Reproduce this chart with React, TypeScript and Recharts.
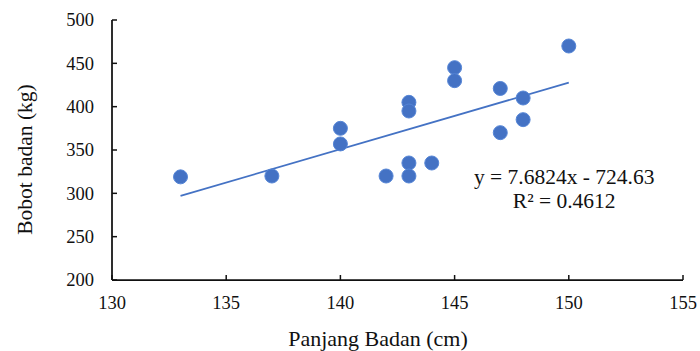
import React from 'react';
import { ScatterChart, Scatter, XAxis, YAxis, ReferenceLine, ReferenceDot } from 'recharts';

const panjangBadan = [133, 137, 140, 140, 142, 143, 143, 143, 143, 144, 145, 145, 147, 147, 148, 148, 150];
const bobotBadan = [319, 320, 375, 357, 320, 405, 395, 335, 320, 335, 445, 430, 421, 370, 410, 385, 470];
const xTicks = [130, 135, 140, 145, 150, 155];
const yTicks = [200, 250, 300, 350, 400, 450, 500];
const slope = 7.6824;
const intercept = -724.63;
const rSquared = 0.4612;
const trendRange = [133, 150];

const points = panjangBadan.map((x, i) => ({ x, y: bobotBadan[i] }));
const trendSegment = trendRange.map((x) => ({ x, y: slope * x + intercept }));

const FONT = "'Liberation Serif', 'DejaVu Serif', serif";
const INK = '#111111';
const AXIS = '#111111';
const textStyle = (size: number) => ({ fontFamily: FONT, fontSize: size, fill: INK });

const XTick = (props: any) => {
  const { x, y, payload } = props;
  return (
    <g>
      <line x1={x} x2={x} y1={y} y2={y - 5} stroke={AXIS} strokeWidth={1.5} />
      <text x={x} y={y + 29} textAnchor="middle" style={textStyle(18.5)}>
        {payload.value}
      </text>
    </g>
  );
};

const YTick = (props: any) => {
  const { x, y, payload } = props;
  return (
    <g>
      <line x1={x} x2={x + 5} y1={y} y2={y} stroke={AXIS} strokeWidth={1.5} />
      <text x={x - 18} y={y + 6.3} textAnchor="end" style={textStyle(18.5)}>
        {payload.value}
      </text>
    </g>
  );
};

const XTitle = (props: any) => {
  const { viewBox } = props;
  return (
    <text x={378} y={viewBox.y + 66} textAnchor="middle" style={textStyle(22)}>
      Panjang Badan (cm)
    </text>
  );
};

const YTitle = (props: any) => {
  const { viewBox } = props;
  const cx = 31.5;
  const cy = viewBox.y + viewBox.height / 2 + 9.5;
  return (
    <text
      x={cx}
      y={cy}
      transform={`rotate(-90 ${cx} ${cy})`}
      textAnchor="middle"
      style={textStyle(21.5)}
    >
      Bobot badan (kg)
    </text>
  );
};

const Equation = (props: any) => {
  const { viewBox } = props;
  const cx = viewBox.x + viewBox.width / 2;
  const cy = viewBox.y + viewBox.height / 2;
  return (
    <g>
      <text x={cx} y={cy - 4} textAnchor="middle" style={textStyle(21.5)}>
        {`y = ${slope}x - ${Math.abs(intercept)}`}
      </text>
      <text x={cx} y={cy + 20} textAnchor="middle" style={textStyle(21.5)}>
        {`R² = ${rSquared}`}
      </text>
    </g>
  );
};

export default function App() {
  return (
    <div style={{ position: 'absolute', left: 0, top: 0, width: 700, height: 351, background: '#fff' }}>
      <ScatterChart width={700} height={351} margin={{ top: 20, right: 17, left: 0, bottom: 0 }}>
        <XAxis
          type="number"
          dataKey="x"
          domain={[130, 155]}
          ticks={xTicks}
          height={71}
          tickSize={0}
          tickMargin={0}
          tick={<XTick />}
          axisLine={{ stroke: AXIS, strokeWidth: 1.75 }}
          tickLine={false}
          interval={0}
          allowDataOverflow
          label={{ content: <XTitle /> }}
        />
        <YAxis
          type="number"
          dataKey="y"
          domain={[200, 500]}
          ticks={yTicks}
          width={112}
          tickSize={0}
          tickMargin={0}
          tick={<YTick />}
          axisLine={{ stroke: AXIS, strokeWidth: 1.75 }}
          tickLine={false}
          interval={0}
          allowDataOverflow
          label={{ content: <YTitle /> }}
        />
        <ReferenceLine
          segment={trendSegment}
          stroke="#4472C4"
          strokeWidth={1.75}
          ifOverflow="visible"
        />
        <Scatter
          data={points}
          fill="#4472C4"
          isAnimationActive={false}
          shape={(p: any) => <circle cx={p.cx} cy={p.cy} r={7} fill="#4472C4" stroke="#5585d6" strokeWidth={1} />}
        />
        <ReferenceDot
          x={149.8}
          y={306}
          r={0}
          fill="none"
          stroke="none"
          ifOverflow="visible"
          label={{ content: <Equation /> }}
        />
      </ScatterChart>
    </div>
  );
}
